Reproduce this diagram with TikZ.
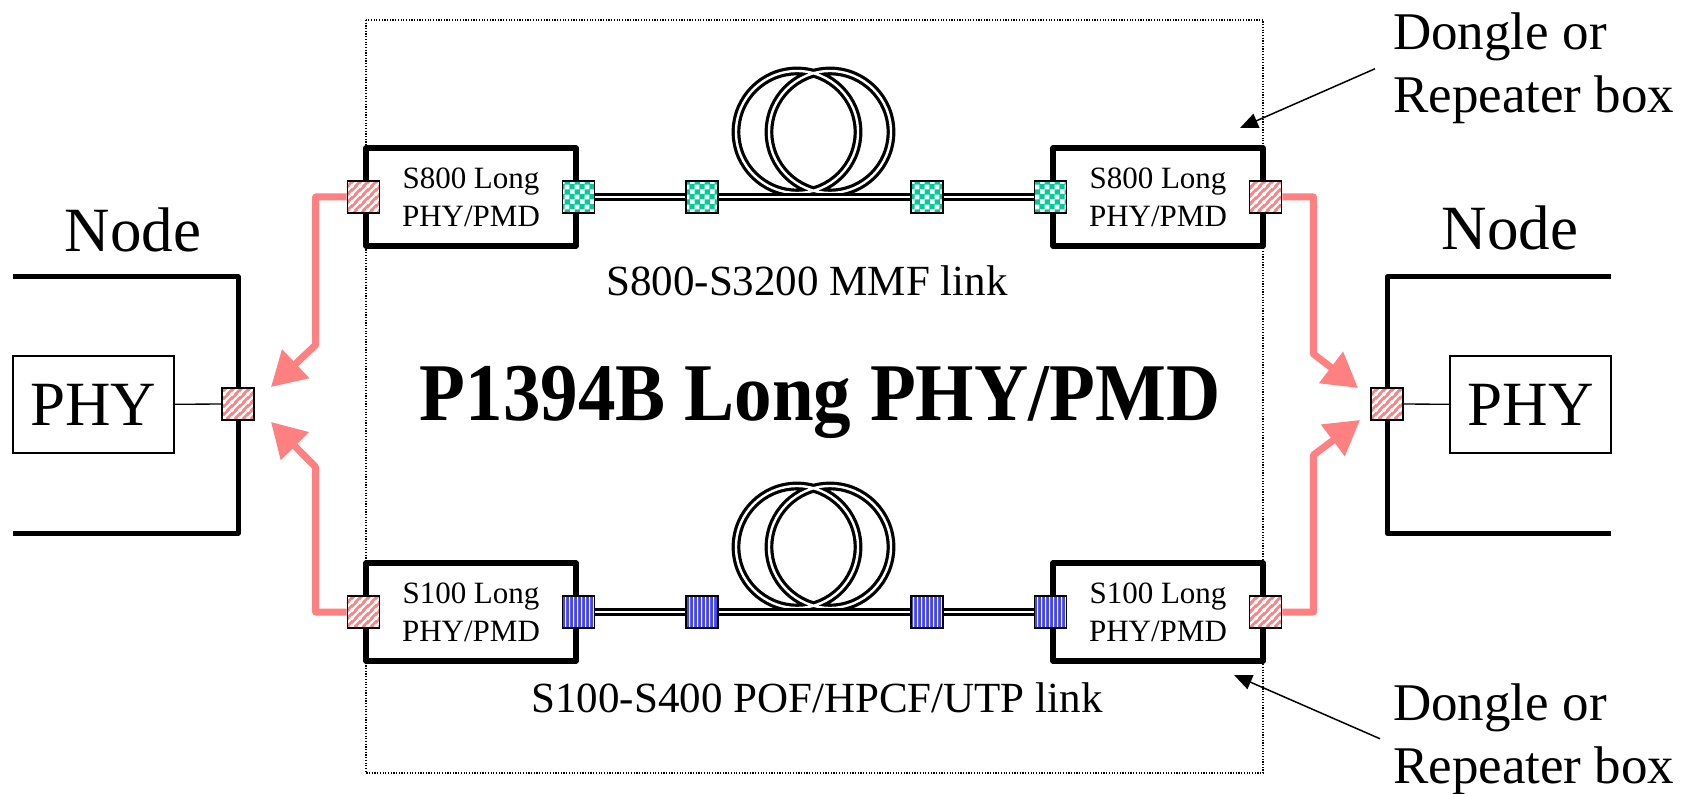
\documentclass[tikz,border=0pt]{standalone}
\usepackage{fontspec}
\setmainfont{Liberation Serif}
\usetikzlibrary{arrows.meta,backgrounds,patterns,positioning}

\definecolor{salmon}{RGB}{255,128,128}
\definecolor{jade}{RGB}{0,204,153}
\definecolor{violetblue}{RGB}{70,70,235}

% port fillings
\pgfdeclarepatternformonly{pinkstripes}{\pgfqpoint{0pt}{0pt}}{\pgfqpoint{8pt}{8pt}}{\pgfqpoint{8pt}{8pt}}{%
	\pgfsetlinewidth{2.6pt}
	\pgfpathmoveto{\pgfqpoint{-4pt}{-4pt}}\pgfpathlineto{\pgfqpoint{12pt}{12pt}}
	\pgfpathmoveto{\pgfqpoint{-4pt}{4pt}}\pgfpathlineto{\pgfqpoint{4pt}{12pt}}
	\pgfpathmoveto{\pgfqpoint{4pt}{-4pt}}\pgfpathlineto{\pgfqpoint{12pt}{4pt}}
	\pgfusepath{stroke}}
\pgfdeclarepatternformonly{greenchecks}{\pgfqpoint{0pt}{0pt}}{\pgfqpoint{10pt}{10pt}}{\pgfqpoint{10pt}{10pt}}{%
	\pgfpathrectangle{\pgfqpoint{0pt}{0pt}}{\pgfqpoint{5pt}{5pt}}
	\pgfpathrectangle{\pgfqpoint{5pt}{5pt}}{\pgfqpoint{5pt}{5pt}}
	\pgfusepath{fill}}
\pgfdeclarepatternformonly{bluebars}{\pgfqpoint{0pt}{0pt}}{\pgfqpoint{4pt}{4pt}}{\pgfqpoint{4pt}{4pt}}{%
	\pgfsetlinewidth{1.3pt}
	\pgfpathmoveto{\pgfqpoint{2pt}{-1pt}}\pgfpathlineto{\pgfqpoint{2pt}{5pt}}
	\pgfusepath{stroke}}

\tikzset{%
	modbox/.style    = {draw, line width=5.5pt, line join=round, minimum width=210pt, minimum height=98pt, inner sep=0pt, align=center, font=\fontsize{31}{38}\selectfont},
	portbox/.style   = {draw, line width=1.4pt, minimum size=32pt, inner sep=0pt},
	pinkport/.style  = {portbox, preaction={fill=salmon}, pattern=pinkstripes, pattern color=white},
	greenport/.style = {portbox, preaction={fill=jade}, pattern=greenchecks, pattern color=white},
	blueport/.style  = {portbox, preaction={fill=violetblue}, pattern=bluebars, pattern color=white},
	phybox/.style    = {draw, line width=1.3pt, minimum width=161pt, minimum height=97pt, font=\fontsize{63}{70}\selectfont},
	bigtext/.style   = {anchor=base, font=\fontsize{63}{70}\selectfont},
	linktext/.style  = {anchor=base, font=\fontsize{43}{50}\selectfont},
	calltext/.style  = {anchor=base west, align=left, inner sep=0pt, font=\fontsize{53}{63}\selectfont},
	nodeframe/.style = {line width=5pt, line join=round},
	fiber/.style     = {line width=3.2pt, double=white, double distance=2.4pt},
	linkarrow/.style = {salmon, line width=7pt, line join=round, -{Triangle[length=34pt,width=38pt]}},
	callout/.style   = {line width=1.5pt, -{Triangle[length=18pt,width=15pt]}},
}

\begin{document}
\begin{tikzpicture}[x=1pt,y=-1pt]
	\begin{scope}[on background layer]
		\fill[white] (0,0) rectangle (1683,794);
	\end{scope}
	\useasboundingbox (0,0) rectangle (1683,794);
	\draw[line width=1.2pt, dash pattern=on 1.2pt off 1.5pt] (366,20) rectangle (1263,773);
	
	% the two nodes
	\draw[nodeframe] (13,277) -| (238,533) -- (13,533);
	\draw[nodeframe] (1611,277) -| (1387,533) -- (1611,533);
	\node[bigtext] (lNodeLabel) at (133,252) {Node};
	\node[bigtext] (rNodeLabel) at (1510,250) {Node};
	\node[phybox] (lPhy) at (93.5,404.5) {PHY};
	\node[phybox] (rPhy) at (1530.5,404.5) {PHY};
	\node[pinkport] (lPort) at (238,404) {};
	\node[pinkport] (rPort) at (1387,404) {};
	\draw[line width=1.3pt] (lPhy) -- (lPort);
	\draw[line width=1.3pt] (rPhy) -- (rPort);
	
	% dongles
	\node[modbox] (tlMod) at (471,197) {S800 Long\\PHY/PMD};
	\node[modbox] (trMod) at (1158,197) {S800 Long\\PHY/PMD};
	\node[modbox] (blMod) at (471,612) {S100 Long\\PHY/PMD};
	\node[modbox] (brMod) at (1158,612) {S100 Long\\PHY/PMD};
	
	\node[pinkport]  (tlIn)  at (tlMod.west) {};
	\node[greenport] (tlOut) at (tlMod.east) {};
	\node[greenport] (trIn)  at (trMod.west) {};
	\node[pinkport]  (trOut) at (trMod.east) {};
	\node[pinkport]  (blIn)  at (blMod.west) {};
	\node[blueport]  (blOut) at (blMod.east) {};
	\node[blueport]  (brIn)  at (brMod.west) {};
	\node[pinkport]  (brOut) at (brMod.east) {};
	\foreach \x/\n in {702/A,927/B} {
		\node[greenport] (tm\n) at (\x,197) {};
		\node[blueport]  (bm\n) at (\x,612) {};
	}
	
	% fibre links
	\begin{scope}[on background layer]
		\draw[fiber] (797,132) circle[radius=61] (830,132) circle[radius=61];
		\draw[fiber] (797,547) circle[radius=61] (830,547) circle[radius=61];
		\draw[fiber] (tlOut) -- (tmA) -- (tmB) -- (trIn);
		\draw[fiber] (blOut) -- (bmA) -- (bmB) -- (brIn);
	\end{scope}
	\node[linktext] (mmfLabel) at (807,295) {S800-S3200 MMF link};
	\node[linktext] (pofLabel) at (817,712) {S100-S400 POF/HPCF/UTP link};
	\node[anchor=base, font=\fontsize{82}{90}\selectfont\bfseries] (title) at (820,420) {\scalebox{0.915}[1]{P1394B Long PHY/PMD}};
	
	% cables to the nodes
	\coordinate (lTipA) at (271,387);
	\coordinate (lTipB) at (271,422);
	\coordinate (rTipA) at (1358,388);
	\coordinate (rTipB) at (1360,420);
	\draw[linkarrow] (tlIn.west) -- ++(-31,0) -- ++(0,148) -- (lTipA);
	\draw[linkarrow] (blIn.west) -- ++(-31,0) -- ++(0,-145) -- (lTipB);
	\draw[linkarrow] (trOut.east) -- ++(31,0) -- ++(0,157) -- (rTipA);
	\draw[linkarrow] (brOut.east) -- ++(31,0) -- ++(0,-157) -- (rTipB);
	
	% callouts
	\node[calltext] (dongleTop) at (1393,113) {Dongle or\\Repeater box};
	\node[calltext] (dongleBot) at (1393,783) {Dongle or\\Repeater box};
	\coordinate (tipTop) at (1240,128);
	\coordinate (tipBot) at (1234,675);
	\draw[callout] ([xshift=-18pt]dongleTop.west) -- (tipTop);
	\draw[callout] ([xshift=-13pt]dongleBot.west) -- (tipBot);
\end{tikzpicture}
\end{document}
